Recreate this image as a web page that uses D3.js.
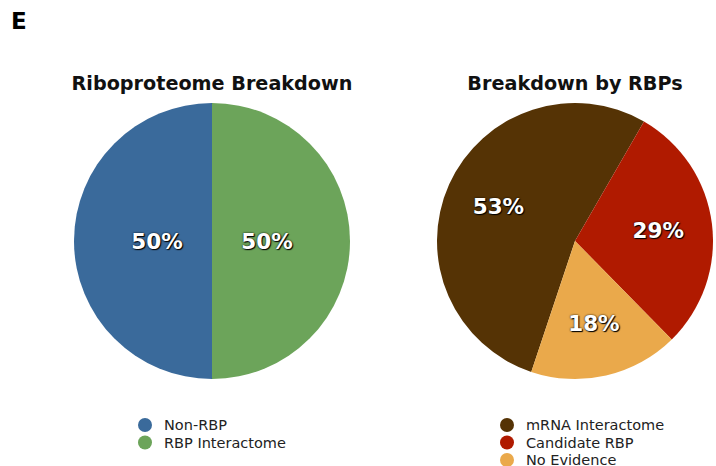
<!DOCTYPE html>
<html><head><meta charset="utf-8">
<script src="https://cdn.jsdelivr.net/npm/d3@7"></script>
<style>
body{margin:0;background:#fff;}
svg{display:block;font-family:"DejaVu Sans",Verdana,sans-serif;}
.lbl{text-shadow:0 0 2px #000,1px 1px 1px #000;}
</style></head><body>
<svg id="c" width="716" height="466"></svg>
<script>
// Data
const leftCategories = ["Non-RBP", "RBP Interactome"];
const leftValues = [50, 50];
const leftColors = ["#3a6a9b", "#6ca45a"];
const rightCategories = ["mRNA Interactome", "Candidate RBP", "No Evidence"];
const rightValues = [53.2, 29.3, 17.5];
const rightColors = ["#553305", "#b01a00", "#eaa94b"];

const svg = d3.select("#c");
svg.append("text").attr("x", 11).attr("y", 29).attr("font-size", 23).attr("font-weight", "bold").text("E");

function drawPie(cx, cy, r, title, cats, vals, colors, startDeg, labelR, legendX, legendY) {
  svg.append("text").attr("x", cx).attr("y", 90).attr("text-anchor", "middle")
    .attr("font-size", 19.2).attr("font-weight", "bold").attr("fill", "#111").text(title);
  const data = cats.map((c, i) => ({cat: c, v: vals[i], color: colors[i]}));
  const start = startDeg * Math.PI / 180;
  const pie = d3.pie().value(d => d.v).sort(null).startAngle(start).endAngle(start + 2 * Math.PI);
  const arcs = pie(data);
  const arc = d3.arc().innerRadius(0).outerRadius(r);
  const lab = d3.arc().innerRadius(labelR).outerRadius(labelR);
  const g = svg.append("g").attr("transform", `translate(${cx},${cy})`);
  g.selectAll("path").data(arcs).join("path").attr("d", arc).attr("fill", d => d.data.color);
  g.selectAll("text").data(arcs).join("text").attr("class", "lbl")
    .attr("transform", d => `translate(${lab.centroid(d)})`)
    .attr("text-anchor", "middle").attr("dy", "0.36em")
    .attr("font-size", 21.5).attr("font-weight", "bold").attr("fill", "#fff")
    .text(d => Math.round(d.data.v) + "%");
  const lg = svg.append("g").attr("transform", `translate(${legendX},${legendY})`);
  data.forEach((d, i) => {
    lg.append("circle").attr("cx", 0).attr("cy", i * 17.5).attr("r", 7).attr("fill", d.color);
    lg.append("text").attr("x", 19).attr("y", i * 17.5).attr("dy", "0.35em")
      .attr("font-size", 14.5).attr("fill", "#222").text(d.cat);
  });
}

drawPie(212, 241, 138, "Riboproteome Breakdown", leftCategories, leftValues, leftColors, 180, 55, 145, 425);
// right pie: brown slice ends at 30deg (clockwise from top)
const brownDeg = rightValues[0] / d3.sum(rightValues) * 360;
drawPie(575, 241, 138, "Breakdown by RBPs", rightCategories, rightValues, rightColors, 30 - brownDeg, 84, 507, 425);
</script>
</body></html>
